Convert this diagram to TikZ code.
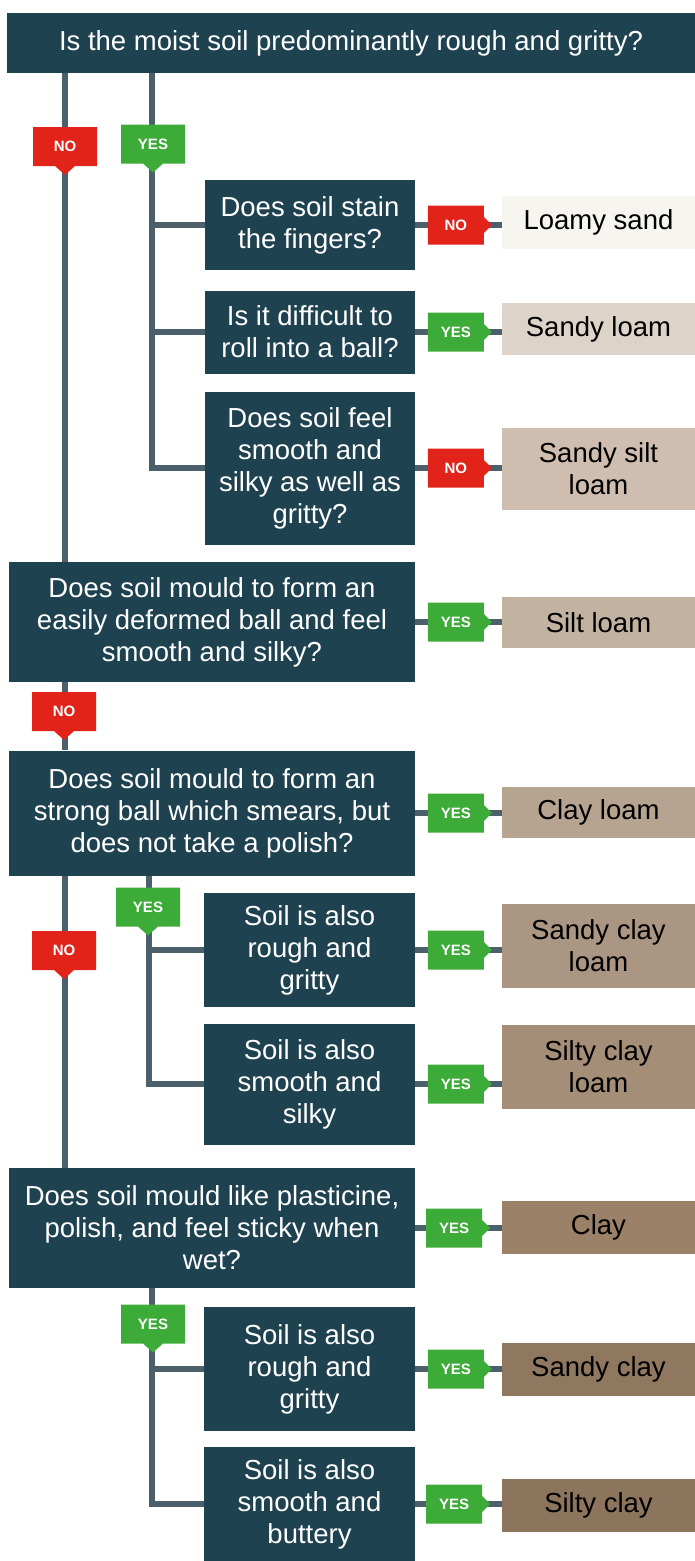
\documentclass[tikz,border=0pt]{standalone}
\usepackage{fontspec}
\setmainfont{Liberation Sans}
\usepackage{xcolor}
\usetikzlibrary{shapes.callouts}
\definecolor{soildark}{RGB}{31,66,80}
\definecolor{soilline}{RGB}{76,96,108}
\definecolor{tagred}{RGB}{226,35,26}
\definecolor{taggreen}{RGB}{61,171,55}
\definecolor{soilA}{RGB}{247,245,240}
\definecolor{soilB}{RGB}{222,211,201}
\definecolor{soilC}{RGB}{207,190,176}
\definecolor{soilD}{RGB}{194,178,160}
\definecolor{soilE}{RGB}{182,163,144}
\definecolor{soilF}{RGB}{170,150,130}
\definecolor{soilG}{RGB}{164,142,120}
\definecolor{soilH}{RGB}{154,129,104}
\definecolor{soilI}{RGB}{143,119,96}
\definecolor{soilJ}{RGB}{140,116,93}

\begin{document}
\begin{tikzpicture}[x=1pt, y=-1pt,
  question/.style={fill=soildark, text=white, inner sep=0pt, align=center, font=\fontsize{27.5}{32}\selectfont},
  result/.style={inner sep=0pt, align=center, text=black, minimum width=193pt, font=\fontsize{27.5}{32}\selectfont},
  link/.style={draw=soilline, line width=5.5pt},
  tagdown/.style={rectangle callout, callout relative pointer={(0pt,-9pt)}, callout pointer width=20pt, minimum width=64pt, minimum height=39pt, inner sep=0pt, text=white, font=\fontsize{15}{15}\selectfont\bfseries},
  tagright/.style={rectangle callout, callout relative pointer={(8pt,0pt)}, callout pointer width=16pt, minimum width=56pt, minimum height=39pt, inner sep=0pt, text=white, font=\fontsize{15}{15}\selectfont\bfseries}]
  \useasboundingbox (0,0) rectangle (695,1561);

  % questions
  \node[question, minimum width=688pt, minimum height=60pt] (title) at (351,43) {Is the moist soil predominantly rough and gritty?};
  \node[question, minimum width=210pt, minimum height=90pt] (qa) at (310,225) {Does soil stain\\the fingers?};
  \node[question, minimum width=210pt, minimum height=83pt] (qb) at (310,332) {Is it difficult to\\roll into a ball?};
  \node[question, minimum width=210pt, minimum height=153pt] (qc) at (310,468) {Does soil feel\\smooth and\\silky as well as\\gritty?};
  \node[question, minimum width=406pt, minimum height=120pt] (qd) at (212,622) {Does soil mould to form an\\easily deformed ball and feel\\smooth and silky?};
  \node[question, minimum width=406pt, minimum height=125pt] (qe) at (212,813) {Does soil mould to form an\\strong ball which smears, but\\does not take a polish?};
  \node[question, minimum width=211pt, minimum height=114pt] (qf) at (309.5,950) {Soil is also\\rough and\\gritty};
  \node[question, minimum width=211pt, minimum height=121pt] (qg) at (309.5,1084) {Soil is also\\smooth and\\silky};
  \node[question, minimum width=406pt, minimum height=120pt] (qh) at (212,1228) {Does soil mould like plasticine,\\polish, and feel sticky when\\wet?};
  \node[question, minimum width=211pt, minimum height=124pt] (qi) at (309.5,1369) {Soil is also\\rough and\\gritty};
  \node[question, minimum width=211pt, minimum height=115pt] (qj) at (309.5,1504) {Soil is also\\smooth and\\buttery};

  % soil classes
  \node[result, fill=soilA, minimum height=53pt] (r1) at (598.5,222) {Loamy sand};
  \node[result, fill=soilB, minimum height=52pt] (r2) at (598.5,329) {Sandy loam};
  \node[result, fill=soilC, minimum height=82pt] (r3) at (598.5,469) {Sandy silt\\loam};
  \node[result, fill=soilD, minimum height=51pt] (r4) at (598.5,622.5) {Silt loam};
  \node[result, fill=soilE, minimum height=51pt] (r5) at (598.5,812.5) {Clay loam};
  \node[result, fill=soilF, minimum height=84pt] (r6) at (598.5,946) {Sandy clay\\loam};
  \node[result, fill=soilG, minimum height=84pt] (r7) at (598.5,1067) {Silty clay\\loam};
  \node[result, fill=soilH, minimum height=53pt] (r8) at (598.5,1227.5) {Clay};
  \node[result, fill=soilI, minimum height=53pt] (r9) at (598.5,1369.5) {Sandy clay};
  \node[result, fill=soilJ, minimum height=53pt] (r10) at (598.5,1505.5) {Silty clay};

  % stems
  \coordinate (trunk) at (65,0);
  \coordinate (stemA) at (152,0);
  \coordinate (stemB) at (149,0);
  \coordinate (stemC) at (152,0);
  \draw[link] (title.south -| trunk) -- (qd.north -| trunk);
  \draw[link] (qd.south -| trunk) -- (qe.north -| trunk);
  \draw[link] (qe.south -| trunk) -- (qh.north -| trunk);
  \draw[link] (title.south -| stemA) |- (qc.west);
  \draw[link] (stemA |- qa.west) -- (qa.west);
  \draw[link] (stemA |- qb.west) -- (qb.west);
  \draw[link] (qe.south -| stemB) |- (qg.west);
  \draw[link] (stemB |- qf.west) -- (qf.west);
  \draw[link] (qh.south -| stemC) |- (qj.west);
  \draw[link] (stemC |- qi.west) -- (qi.west);

  % answers to the classes
  \draw[link] (qa.east) -- node[tagright, fill=tagred, pos=.47] (ta) {NO} (qa.east -| r1.west);
  \draw[link] (qb.east) -- node[tagright, fill=taggreen, pos=.47] (tb) {YES} (qb.east -| r2.west);
  \draw[link] (qc.east) -- node[tagright, fill=tagred, pos=.47] (tc) {NO} (qc.east -| r3.west);
  \draw[link] (qd.east) -- node[tagright, fill=taggreen, pos=.47] (td) {YES} (qd.east -| r4.west);
  \draw[link] (qe.east) -- node[tagright, fill=taggreen, pos=.47] (te) {YES} (qe.east -| r5.west);
  \draw[link] (qf.east) -- node[tagright, fill=taggreen, pos=.47] (tf) {YES} (qf.east -| r6.west);
  \draw[link] (qg.east) -- node[tagright, fill=taggreen, pos=.47] (tg) {YES} (qg.east -| r7.west);
  \draw[link] (qh.east) -- node[tagright, fill=taggreen, pos=.45] (th) {YES} (qh.east -| r8.west);
  \draw[link] (qi.east) -- node[tagright, fill=taggreen, pos=.47] (ti) {YES} (qi.east -| r9.west);
  \draw[link] (qj.east) -- node[tagright, fill=taggreen, pos=.45] (tj) {YES} (qj.east -| r10.west);

  % answers down the stems
  \node[tagdown, fill=tagred] (no1) at (65,146.5) {NO};
  \node[tagdown, fill=taggreen] (yes1) at (153,144) {YES};
  \node[tagdown, fill=tagred] (no2) at (64,711.5) {NO};
  \node[tagdown, fill=taggreen] (yes2) at (148,907) {YES};
  \node[tagdown, fill=tagred] (no3) at (64,950.5) {NO};
  \node[tagdown, fill=taggreen] (yes3) at (153,1324) {YES};
\end{tikzpicture}
\end{document}
